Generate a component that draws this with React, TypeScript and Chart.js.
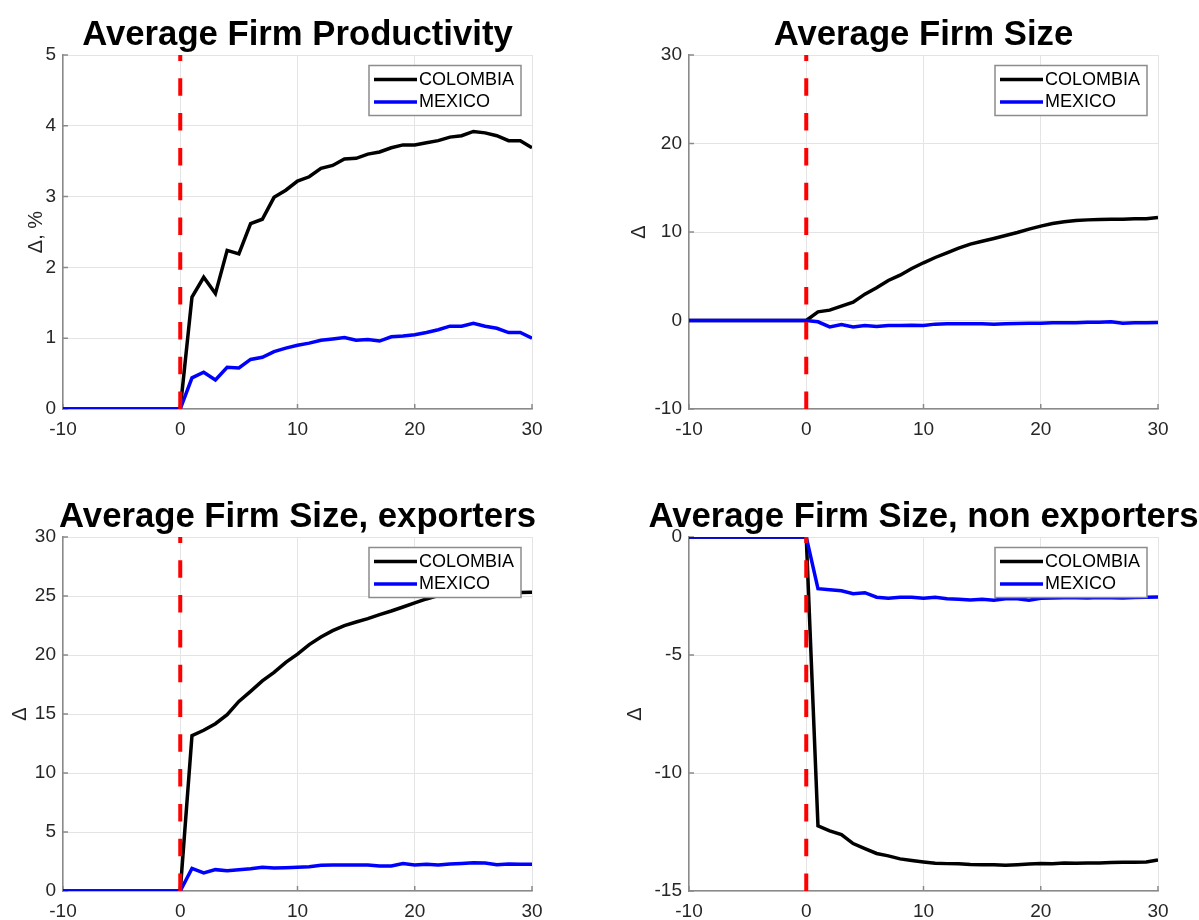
import React, { useEffect, useRef } from 'react';
import { Chart, registerables } from 'chart.js';

Chart.register(...registerables);

// ---------- data ----------
const PERIODS = [-10, -9, -8, -7, -6, -5, -4, -3, -2, -1, 0, 1, 2, 3, 4, 5, 6, 7, 8, 9, 10, 11, 12, 13, 14, 15, 16, 17, 18, 19, 20, 21, 22, 23, 24, 25, 26, 27, 28, 29, 30];
const SERIES_NAMES = ['COLOMBIA', 'MEXICO'];
const SHOCK_PERIOD = 0;
const X_TICKS = [-10, 0, 10, 20, 30];

const PROD_COLOMBIA = [0, 0, 0, 0, 0, 0, 0, 0, 0, 0, 0, 1.58, 1.86, 1.63, 2.24, 2.19, 2.62, 2.68, 2.99, 3.09, 3.22, 3.28, 3.40, 3.44, 3.53, 3.54, 3.60, 3.63, 3.69, 3.73, 3.73, 3.76, 3.79, 3.84, 3.86, 3.92, 3.90, 3.86, 3.79, 3.79, 3.69];
const PROD_MEXICO = [0, 0, 0, 0, 0, 0, 0, 0, 0, 0, 0, 0.44, 0.52, 0.41, 0.59, 0.58, 0.70, 0.73, 0.81, 0.86, 0.90, 0.93, 0.97, 0.99, 1.01, 0.97, 0.98, 0.96, 1.02, 1.03, 1.05, 1.08, 1.12, 1.17, 1.17, 1.21, 1.17, 1.14, 1.08, 1.08, 1.00];

const SIZE_COLOMBIA = [0, 0, 0, 0, 0, 0, 0, 0, 0, 0, 0, 0.98, 1.17, 1.62, 2.07, 2.98, 3.69, 4.52, 5.12, 5.88, 6.52, 7.12, 7.65, 8.17, 8.63, 8.96, 9.27, 9.60, 9.94, 10.32, 10.66, 10.96, 11.15, 11.30, 11.37, 11.41, 11.45, 11.45, 11.49, 11.49, 11.64];
const SIZE_MEXICO = [0, 0, 0, 0, 0, 0, 0, 0, 0, 0, 0, -0.15, -0.72, -0.45, -0.72, -0.56, -0.68, -0.56, -0.56, -0.53, -0.56, -0.41, -0.38, -0.38, -0.38, -0.38, -0.41, -0.38, -0.34, -0.30, -0.30, -0.26, -0.26, -0.26, -0.19, -0.19, -0.15, -0.30, -0.26, -0.26, -0.23];

const EXP_COLOMBIA = [0, 0, 0, 0, 0, 0, 0, 0, 0, 0, 0, 13.16, 13.62, 14.18, 14.94, 16.07, 16.92, 17.80, 18.53, 19.38, 20.08, 20.88, 21.53, 22.06, 22.49, 22.80, 23.08, 23.42, 23.73, 24.07, 24.41, 24.75, 25.03, 25.18, 25.26, 25.30, 25.30, 25.30, 25.30, 25.30, 25.31];
const EXP_MEXICO = [0, 0, 0, 0, 0, 0, 0, 0, 0, 0, 0, 1.92, 1.53, 1.81, 1.72, 1.81, 1.89, 2.01, 1.95, 1.98, 2.01, 2.06, 2.18, 2.20, 2.20, 2.20, 2.20, 2.12, 2.12, 2.32, 2.20, 2.26, 2.20, 2.29, 2.34, 2.40, 2.37, 2.23, 2.29, 2.26, 2.26];

const NONEXP_COLOMBIA = [0, 0, 0, 0, 0, 0, 0, 0, 0, 0, 0, -12.24, -12.45, -12.61, -12.99, -13.20, -13.41, -13.51, -13.64, -13.71, -13.77, -13.82, -13.84, -13.85, -13.88, -13.89, -13.89, -13.91, -13.89, -13.86, -13.84, -13.85, -13.81, -13.82, -13.81, -13.81, -13.79, -13.78, -13.78, -13.77, -13.68];
const NONEXP_MEXICO = [0, 0, 0, 0, 0, 0, 0, 0, 0, 0, 0, -2.19, -2.24, -2.28, -2.40, -2.36, -2.55, -2.60, -2.55, -2.55, -2.60, -2.55, -2.62, -2.64, -2.67, -2.64, -2.68, -2.62, -2.62, -2.68, -2.60, -2.58, -2.57, -2.57, -2.58, -2.56, -2.57, -2.58, -2.56, -2.55, -2.54];

const TITLES = ['Average Firm Productivity', 'Average Firm Size', 'Average Firm Size, exporters', 'Average Firm Size, non exporters'];
const Y_LABELS = ['\u0394, %', '\u0394', '\u0394', '\u0394'];
const Y_TICKS_1 = [0, 1, 2, 3, 4, 5];
const Y_TICKS_2 = [-10, 0, 10, 20, 30];
const Y_TICKS_3 = [0, 5, 10, 15, 20, 25, 30];
const Y_TICKS_4 = [-15, -10, -5, 0];

// ---------- styles / layout ----------
const FONT = '"Liberation Sans", Arial, Helvetica, sans-serif';
const COL_COLOR = '#000000';
const MEX_COLOR = '#0000ff';
const SHOCK_COLOR = '#ff0000';
const AXIS_COLOR = '#8a8a8a';
const GRID_COLOR = '#e4e4e4';
const TEXT_COLOR = '#262626';

const PANELS = [
  { title: TITLES[0], yLabel: Y_LABELS[0], col: PROD_COLOMBIA, mex: PROD_MEXICO, yTicks: Y_TICKS_1, left: 0, top: 0, width: 600, height: 460, area: { l: 63, r: 532, t: 55, b: 409 }, yTitlePad: 24 },
  { title: TITLES[1], yLabel: Y_LABELS[1], col: SIZE_COLOMBIA, mex: SIZE_MEXICO, yTicks: Y_TICKS_2, left: 600, top: 0, width: 599, height: 460, area: { l: 89, r: 558, t: 55, b: 409 }, yTitlePad: 27 },
  { title: TITLES[2], yLabel: Y_LABELS[2], col: EXP_COLOMBIA, mex: EXP_MEXICO, yTicks: Y_TICKS_3, left: 0, top: 460, width: 600, height: 460, area: { l: 63, r: 532, t: 77, b: 431 }, yTitlePad: 8 },
  { title: TITLES[3], yLabel: Y_LABELS[3], col: NONEXP_COLOMBIA, mex: NONEXP_MEXICO, yTicks: Y_TICKS_4, left: 600, top: 460, width: 599, height: 460, area: { l: 89, r: 558, t: 77, b: 431 }, yTitlePad: 23 },
];

const titleCenterPlugin = {
  id: 'titleCenter',
  afterLayout(chart: any) {
    const t = chart.titleBlock;
    if (!t) return;
    const c = (chart.chartArea.left + chart.chartArea.right) / 2;
    t.left = c - 300;
    t.right = c + 300;
    t.width = 600;
  },
};

const innerTicksPlugin = {
  id: 'innerTicks',
  beforeDatasetsDraw(chart: any) {
    const { ctx, chartArea } = chart;
    const xs = chart.scales.x;
    const ys = chart.scales.y;
    ctx.save();
    ctx.strokeStyle = AXIS_COLOR;
    ctx.lineWidth = 1.5;
    ctx.beginPath();
    ys.ticks.forEach((tk: any) => {
      const py = ys.getPixelForValue(tk.value);
      ctx.moveTo(chartArea.left, py);
      ctx.lineTo(chartArea.left + 5, py);
    });
    xs.ticks.forEach((tk: any) => {
      const px = xs.getPixelForValue(tk.value);
      ctx.moveTo(px, chartArea.bottom);
      ctx.lineTo(px, chartArea.bottom - 5);
    });
    ctx.stroke();
    ctx.restore();
  },
};

const boxLegendPlugin = {
  id: 'boxLegend',
  afterDatasetsDraw(chart: any) {
    const { ctx, chartArea } = chart;
    const entries = chart.data.datasets.filter((d: any) => SERIES_NAMES.includes(d.label));
    entries.sort((a: any, b: any) => SERIES_NAMES.indexOf(a.label) - SERIES_NAMES.indexOf(b.label));
    const w = 152;
    const h = 50;
    const x0 = chartArea.right - 11 - w;
    const y0 = chartArea.top + 10.5;
    ctx.save();
    ctx.fillStyle = '#ffffff';
    ctx.fillRect(x0, y0, w, h);
    ctx.strokeStyle = '#8c8c8c';
    ctx.lineWidth = 1.5;
    ctx.strokeRect(x0, y0, w, h);
    entries.forEach((d: any, i: number) => {
      const y = y0 + 14 + i * 22.5;
      ctx.strokeStyle = d.borderColor;
      ctx.lineWidth = 3.5;
      ctx.beginPath();
      ctx.moveTo(x0 + 5, y);
      ctx.lineTo(x0 + 48, y);
      ctx.stroke();
      ctx.fillStyle = '#000000';
      ctx.font = `18px ${FONT}`;
      ctx.textBaseline = 'middle';
      ctx.textAlign = 'left';
      ctx.fillText(d.label, x0 + 50, y + 0.5);
    });
    ctx.restore();
  },
};

function Panel({ spec }: { spec: any }) {
  const ref = useRef<HTMLCanvasElement | null>(null);
  useEffect(() => {
    const yTicks = spec.yTicks;
    const yMin = yTicks[0];
    const yMax = yTicks[yTicks.length - 1];
    const colPts = PERIODS.map((p, i) => ({ x: p, y: spec.col[i] }));
    const mexPts = PERIODS.map((p, i) => ({ x: p, y: spec.mex[i] }));
    const chart = new Chart(ref.current as HTMLCanvasElement, {
      type: 'line',
      data: {
        datasets: [
          {
            label: 'shock',
            data: [{ x: SHOCK_PERIOD, y: yMin }, { x: SHOCK_PERIOD, y: yMax }],
            borderColor: SHOCK_COLOR,
            borderWidth: 4,
            borderDash: [17.5, 17.3],
            pointRadius: 0,
            tension: 0,
          },
          {
            label: SERIES_NAMES[1],
            data: mexPts,
            borderColor: MEX_COLOR,
            borderWidth: 3.5,
            pointRadius: 0,
            tension: 0,
          },
          {
            label: SERIES_NAMES[0],
            data: colPts,
            borderColor: COL_COLOR,
            borderWidth: 3.5,
            pointRadius: 0,
            tension: 0,
          },
        ],
      },
      options: {
        responsive: false,
        animation: false,
        layout: { padding: { left: 0, top: 0, right: spec.width - spec.area.r, bottom: 0 } },
        plugins: {
          legend: { display: false },
          tooltip: { enabled: false },
          title: {
            display: true,
            text: spec.title,
            color: '#000000',
            font: { family: FONT, size: 34.7, weight: 'bold', lineHeight: 1 },
            padding: { top: spec.area.t - 36.8, bottom: 2.1 },
          },
        },
        scales: {
          x: {
            type: 'linear',
            min: X_TICKS[0],
            max: X_TICKS[X_TICKS.length - 1],
            afterBuildTicks: (s: any) => { s.ticks = X_TICKS.map((v) => ({ value: v })); },
            afterFit: (s: any) => { s.height = spec.height - spec.area.b; },
            ticks: { color: TEXT_COLOR, font: { family: FONT, size: 19 }, padding: 9, maxRotation: 0 },
            grid: { color: GRID_COLOR, lineWidth: 1, drawTicks: false },
            border: { display: true, color: AXIS_COLOR, width: 1.5 },
          },
          y: {
            type: 'linear',
            min: yMin,
            max: yMax,
            afterBuildTicks: (s: any) => { s.ticks = yTicks.map((v: number) => ({ value: v })); },
            afterFit: (s: any) => { s.width = spec.area.l; },
            ticks: { color: TEXT_COLOR, font: { family: FONT, size: 19 }, padding: 7 },
            grid: { color: GRID_COLOR, lineWidth: 1, drawTicks: false },
            border: { display: true, color: AXIS_COLOR, width: 1.5 },
            title: {
              display: true,
              text: spec.yLabel,
              color: TEXT_COLOR,
              font: { family: FONT, size: 20 },
              padding: { top: spec.yTitlePad, bottom: 0 },
            },
          },
        },
      },
      plugins: [titleCenterPlugin, innerTicksPlugin, boxLegendPlugin],
    } as any);
    return () => chart.destroy();
  }, []);
  return (
    <canvas
      ref={ref}
      width={spec.width}
      height={spec.height}
      style={{ position: 'absolute', left: spec.left, top: spec.top, width: spec.width, height: spec.height }}
    />
  );
}

export default function App() {
  return (
    <div style={{ position: 'absolute', left: 0, top: 0, width: 1199, height: 920, overflow: 'hidden', background: '#ffffff' }}>
      {PANELS.map((p, i) => (
        <Panel key={i} spec={p} />
      ))}
    </div>
  );
}
